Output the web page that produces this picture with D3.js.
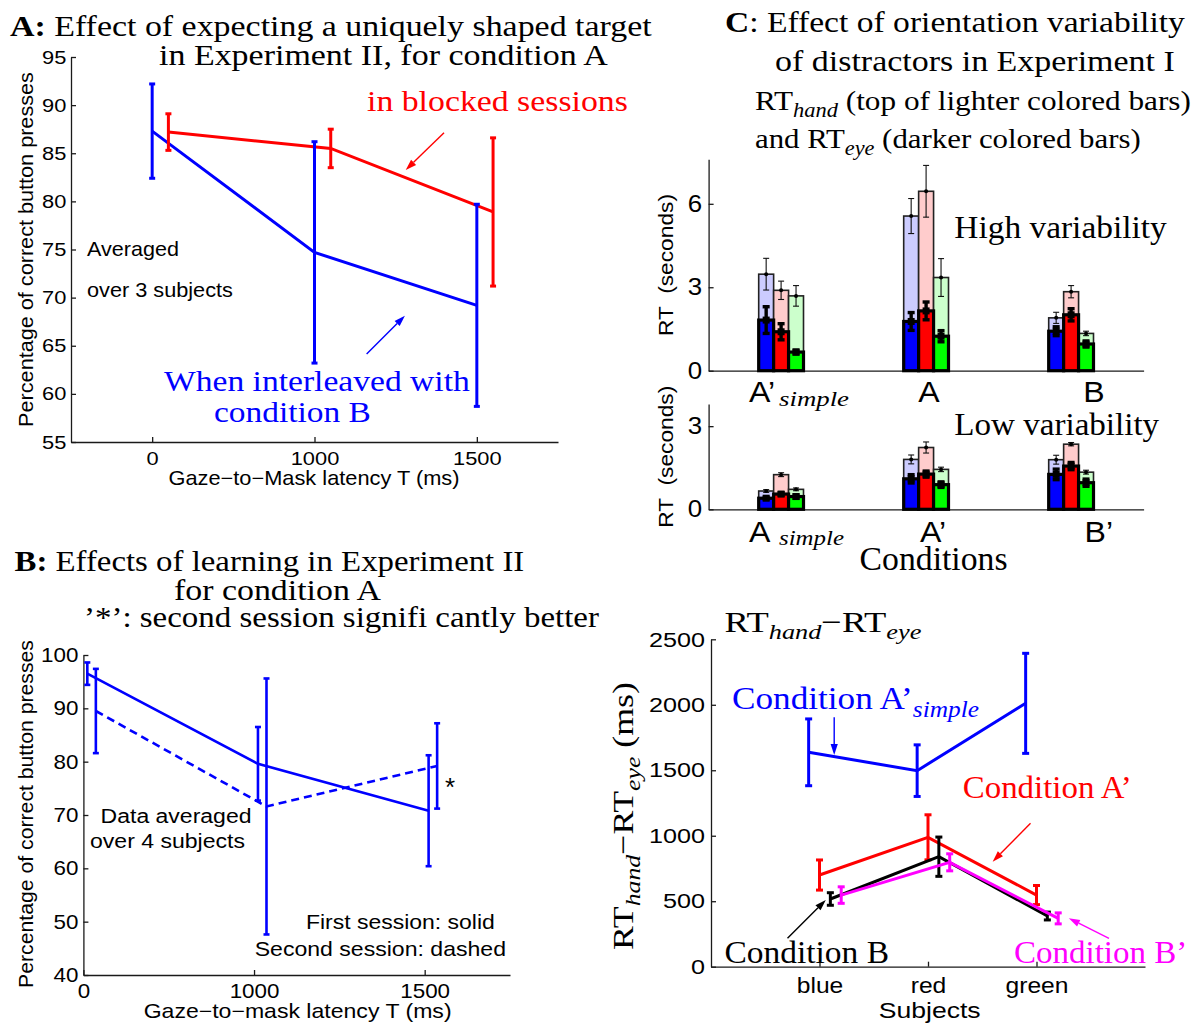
<!DOCTYPE html>
<html><head><meta charset="utf-8">
<script src="https://cdn.jsdelivr.net/npm/d3@7"></script>
<style>
html,body{margin:0;padding:0;background:#fff;}
svg{display:block;background:#fff;}
</style></head><body>
<svg id="fig" width="1199" height="1026"></svg>
<script>
// ---------------- Panel A data ----------------
const aLatencyLabels = ["0", "1000", "1500"];
const aYTicks = [55, 60, 65, 70, 75, 80, 85, 90, 95];
const aBlockedMean = [87.2, 85.5, 78.9];
const aBlockedErr = [1.9, 2.0, 7.7];
const aInterleavedMean = [87.3, 74.7, 69.2];
const aInterleavedErr = [4.9, 11.5, 10.5];

// ---------------- Panel B data ----------------
const bLatencyLabels = ["0", "1000", "1500"];
const bYTicks = [40, 50, 60, 70, 80, 90, 100];
const bFirstMean = [96.5, 79.6, 70.8];
const bFirstErr = [2.1, 6.9, 10.4];
const bSecondMean = [89.5, 71.6, 79.2];
const bSecondErr = [7.9, 24.0, 8.0];

// ---------------- Panel C data (rows: conditions, cols: subjects blue/red/green) ----------------
const cSubjects = ["blue", "red", "green"];
const cHighConditions = ["A’", "A", "B"];
const cHighYTicks = [0, 3, 6];
const cHighHand = [[3.47, 2.89, 2.69], [5.56, 6.45, 3.35], [1.90, 2.84, 1.34]];
const cHighHandErr = [[0.57, 0.33, 0.37], [0.63, 0.93, 0.68], [0.20, 0.22, 0.08]];
const cHighEye = [[1.82, 1.40, 0.67], [1.77, 2.15, 1.24], [1.42, 2.01, 0.96]];
const cHighEyeErr = [[0.48, 0.29, 0.07], [0.32, 0.32, 0.20], [0.16, 0.22, 0.11]];
const cLowConditions = ["A", "A’", "B’"];
const cLowYTicks = [0, 3];
const cLowHand = [[0.66, 1.25, 0.72], [1.80, 2.23, 1.44], [1.79, 2.35, 1.34]];
const cLowHandErr = [[0.05, 0.07, 0.05], [0.16, 0.20, 0.08], [0.16, 0.06, 0.07]];
const cLowEye = [[0.40, 0.55, 0.46], [1.10, 1.27, 0.89], [1.26, 1.56, 0.96]];
const cLowEyeErr = [[0.03, 0.05, 0.06], [0.15, 0.11, 0.10], [0.19, 0.13, 0.13]];

// ---------------- Panel D data ----------------
const dSubjects = ["blue", "red", "green"];
const dYTicks = [0, 500, 1000, 1500, 2000, 2500];
const dAprimeSimpleMean = [1637, 1497, 2011];
const dAprimeSimpleErr = [255, 197, 382];
const dAprimeMean = [700, 988, 547];
const dAprimeErr = [115, 172, 73];
const dBMean = [517, 840, 387];
const dBErr = [48, 150, 30];
const dBprimeMean = [547, 797, 369];
const dBprimeErr = [63, 65, 42];

// ---------------- helpers ----------------
const svg = d3.select("#fig");
const SANS = "'Liberation Sans', Arial, Helvetica, sans-serif";
const SERIF = "'Liberation Serif', 'Times New Roman', Times, serif";
const AX = "#1a1a1a";
const BLUE = "#0000ff", RED = "#ff0000", GREEN = "#00ff00", MAG = "#ff00ff";
const fmtInt = d3.format("d");

function label(parent, o) {
  const g = parent.append("g");
  const t = g.append("text")
    .attr("font-family", o.family || SERIF)
    .attr("font-size", o.size)
    .attr("fill", o.fill || "#000")
    .attr("text-anchor", o.anchor || "start")
    .style("white-space", "pre");
  const parts = typeof o.text === "string" ? [{ t: o.text }] : o.text;
  let shift = 0;
  parts.forEach(p => {
    const target = p.sub ? o.size * 0.25 : 0;
    const ts = t.append("tspan").text(p.t);
    if (target !== shift) ts.attr("dy", target - shift);
    shift = target;
    if (p.sub) ts.attr("font-size", o.size * 0.72);
    if (p.bold) ts.attr("font-weight", "bold");
    if (p.italic) ts.attr("font-style", "italic");
    if (p.family) ts.attr("font-family", p.family);
  });
  let sx = o.sx || 1;
  if (o.width) sx = o.width / t.node().getComputedTextLength();
  g.attr("transform", `translate(${o.x},${o.y})` + (o.rotate ? ` rotate(${o.rotate})` : "") + ` scale(${sx},1)`);
  return g;
}

function styleAxis(g, size, sx) {
  g.attr("font-size", null).attr("font-family", null);
  g.select(".domain").attr("stroke", AX).attr("stroke-width", 1.3);
  g.selectAll(".tick line").attr("stroke", AX).attr("stroke-width", 1.3);
  g.selectAll(".tick text").attr("font-family", SANS).attr("font-size", size)
    .attr("fill", "#000").attr("transform", `scale(${sx},1)`);
}

function errorBars(g, xs, means, errs, x, y, color, width, cap) {
  means.forEach((m, i) => {
    const cx = x(xs[i]), t = y(m + errs[i]), b = y(m - errs[i]);
    g.append("line").attr("x1", cx).attr("x2", cx).attr("y1", t).attr("y2", b)
      .attr("stroke", color).attr("stroke-width", width);
    [t, b].forEach(yy => g.append("line").attr("x1", cx - cap / 2).attr("x2", cx + cap / 2)
      .attr("y1", yy).attr("y2", yy).attr("stroke", color).attr("stroke-width", width));
  });
}

function arrow(g, x, y, p0, p1, color) {
  const x0 = x(p0[0]), y0 = y(p0[1]), x1 = x(p1[0]), y1 = y(p1[1]);
  const ang = Math.atan2(y1 - y0, x1 - x0), L = 11, W = 3.6;
  const bx = x1 - L * Math.cos(ang), by = y1 - L * Math.sin(ang);
  g.append("line").attr("x1", x0).attr("y1", y0).attr("x2", bx).attr("y2", by)
    .attr("stroke", color).attr("stroke-width", 1.4);
  g.append("path").attr("d", `M${x1},${y1}L${bx - W * Math.sin(ang)},${by + W * Math.cos(ang)}L${bx + W * Math.sin(ang)},${by - W * Math.cos(ang)}Z`)
    .attr("fill", color);
}

// ================= Panel A =================
(function () {
  const g = svg.append("g");
  const x = d3.scaleLinear([0.5, 3.5], [71, 558]);
  const y = d3.scaleLinear([55, 95], [442, 57]);
  const idx = aLatencyLabels.map((d, i) => i + 1);
  g.append("g").attr("transform", "translate(0,442)")
    .call(d3.axisBottom(x).tickValues(idx).tickFormat((d, i) => aLatencyLabels[i]).tickSizeInner(-5).tickSizeOuter(0).tickPadding(9.5))
    .call(a => styleAxis(a, 19, 1.15));
  g.append("g").attr("transform", "translate(71,0)")
    .call(d3.axisLeft(y).tickValues(aYTicks).tickFormat(fmtInt).tickSizeInner(-5).tickSizeOuter(0).tickPadding(4))
    .call(a => styleAxis(a, 19, 1.15));

  const line = off => d3.line().x((d, i) => x(idx[i] + off)).y(d => y(d));
  g.append("path").datum(aInterleavedMean).attr("d", line(0)).attr("fill", "none").attr("stroke", BLUE).attr("stroke-width", 3);
  g.append("path").datum(aBlockedMean).attr("d", line(0.1)).attr("fill", "none").attr("stroke", RED).attr("stroke-width", 3);
  errorBars(g, idx, aInterleavedMean, aInterleavedErr, x, y, BLUE, 3, 6);
  errorBars(g, idx.map(v => v + 0.1), aBlockedMean, aBlockedErr, x, y, RED, 3, 6);
  arrow(g, x, y, [2.798, 87.14], [2.562, 83.26], RED);
  arrow(g, x, y, [2.321, 64.14], [2.557, 68.12], BLUE);

  label(g, { x: 10, y: 36, size: 30, width: 642, text: [{ t: "A:", bold: true }, { t: " Effect of expecting a uniquely shaped target" }] });
  label(g, { x: 159, y: 65, size: 30, width: 449, text: "in Experiment II, for condition A" });
  label(g, { x: 367, y: 111, size: 30, width: 261, fill: RED, text: "in blocked sessions" });
  label(g, { x: 164, y: 391, size: 30, width: 306, fill: BLUE, text: "When interleaved with" });
  label(g, { x: 214, y: 422, size: 30, width: 157, fill: BLUE, text: "condition B" });
  label(g, { x: 87, y: 256, size: 20, width: 92, family: SANS, text: "Averaged" });
  label(g, { x: 87, y: 297, size: 20, width: 146, family: SANS, text: "over 3 subjects" });
  label(g, { x: 33, y: 249.5, size: 20, width: 355, family: SANS, anchor: "middle", rotate: -90, text: "Percentage of correct button presses" });
  label(g, { x: 314, y: 485, size: 20, width: 291, family: SANS, anchor: "middle", text: "Gaze\u2212to\u2212Mask latency T (ms)" });
})();

// ================= Panel B =================
(function () {
  const g = svg.append("g");
  const x = d3.scaleLinear([1, 3.5], [83.4, 510]);
  const y = d3.scaleLinear([40, 100], [975, 655]);
  const idx = bLatencyLabels.map((d, i) => i + 1);
  g.append("g").attr("transform", "translate(0,975)")
    .call(d3.axisBottom(x).tickValues(idx).tickFormat((d, i) => bLatencyLabels[i]).tickSizeInner(-5).tickSizeOuter(0).tickPadding(9))
    .call(a => styleAxis(a, 20, 1.12));
  g.append("g").attr("transform", "translate(83.4,0)")
    .call(d3.axisLeft(y).tickValues(bYTicks).tickFormat(fmtInt).tickSizeInner(-5).tickSizeOuter(0).tickPadding(4.5))
    .call(a => styleAxis(a, 20, 1.12));

  const line = off => d3.line().x((d, i) => x(idx[i] + off)).y(d => y(d));
  g.append("path").datum(bFirstMean).attr("d", line(0.023)).attr("fill", "none").attr("stroke", BLUE).attr("stroke-width", 2.6);
  g.append("path").datum(bSecondMean).attr("d", line(0.073)).attr("fill", "none").attr("stroke", BLUE).attr("stroke-width", 2.6).attr("stroke-dasharray", "8,5");
  errorBars(g, idx.map(v => v + 0.023), bFirstMean, bFirstErr, x, y, BLUE, 2.6, 6);
  errorBars(g, idx.map(v => v + 0.073), bSecondMean, bSecondErr, x, y, BLUE, 2.6, 6);

  label(g, { x: 14.5, y: 571, size: 30, width: 510, text: [{ t: "B:", bold: true }, { t: " Effects of learning in Experiment II" }] });
  label(g, { x: 174, y: 600, size: 30, width: 207, text: "for condition A" });
  label(g, { x: 84, y: 627, size: 30, width: 515, text: "\u2019*\u2019: second session signifi cantly better" });
  label(g, { x: 100.6, y: 822.7, size: 20, width: 151, family: SANS, text: "Data averaged" });
  label(g, { x: 90, y: 848, size: 20, width: 155, family: SANS, text: "over 4 subjects" });
  label(g, { x: 494.8, y: 929.3, size: 20, width: 189, family: SANS, anchor: "end", text: "First session: solid" });
  label(g, { x: 506, y: 956, size: 20, width: 251.5, family: SANS, anchor: "end", text: "Second session: dashed" });
  label(g, { x: 450, y: 796, size: 26, family: SANS, anchor: "middle", text: "*" });
  label(g, { x: 33, y: 814, size: 20, width: 348, family: SANS, anchor: "middle", rotate: -90, text: "Percentage of correct button presses" });
  label(g, { x: 297.6, y: 1018, size: 20, width: 308, family: SANS, anchor: "middle", text: "Gaze\u2212to\u2212mask latency T (ms)" });
})();

// ================= Panel C =================
const LIGHT = ["#ccccff", "#ffcccc", "#ccffcc"];
const DARK = [BLUE, RED, GREEN];
function barPanel(yr, yMax, ticks, hand, handErr, eye, eyeErr) {
  const g = svg.append("g");
  const x = d3.scaleLinear([0.5, 3.5], [708.6, 1143.6]);
  const y = d3.scaleLinear([0, yMax], yr);
  const bw = 0.103;
  const bwPx = x(bw) - x(0);
  g.append("g").attr("transform", `translate(0,${yr[0]})`)
    .call(d3.axisBottom(x).tickValues([]).tickSizeOuter(0))
    .call(a => styleAxis(a, 20, 1));
  g.append("g").attr("transform", "translate(708.6,0)")
    .call(d3.axisLeft(y).tickValues(ticks).tickFormat(fmtInt).tickSizeInner(-5).tickSizeOuter(0).tickPadding(6))
    .call(a => styleAxis(a, 23.5, 1.1));
  const pos = (i, j) => i + 1 + (j - 1) * bw;
  hand.forEach((grp, i) => grp.forEach((v, j) => {
    g.append("rect").attr("x", x(pos(i, j) - bw / 2)).attr("width", bwPx)
      .attr("y", y(v)).attr("height", y(0) - y(v))
      .attr("fill", LIGHT[j]).attr("stroke", "#222").attr("stroke-width", 1.6);
  }));
  eye.forEach((grp, i) => grp.forEach((v, j) => {
    g.append("rect").attr("x", x(pos(i, j) - bw / 2)).attr("width", bwPx)
      .attr("y", y(v)).attr("height", y(0) - y(v))
      .attr("fill", DARK[j]).attr("stroke", "#000").attr("stroke-width", 3.2);
  }));
  hand.forEach((grp, i) => {
    const xs = grp.map((v, j) => pos(i, j));
    errorBars(g, xs, grp, handErr[i], x, y, "#111", 1.1, 6);
    grp.forEach((v, j) => g.append("circle").attr("cx", x(xs[j])).attr("cy", y(v)).attr("r", 2).attr("fill", "#000"));
  });
  eye.forEach((grp, i) => {
    const xs = grp.map((v, j) => pos(i, j));
    errorBars(g, xs, grp, eyeErr[i], x, y, "#000", 3.4, 7);
    grp.forEach((v, j) => g.append("rect").attr("x", x(xs[j]) - 3.5).attr("y", y(v) - 3.5).attr("width", 7).attr("height", 7).attr("fill", "#000"));
  });
  return g;
}
(function () {
  const gH = barPanel([370.7, 159.3], 7.6, cHighYTicks, cHighHand, cHighHandErr, cHighEye, cHighEyeErr);
  const gL = barPanel([509.3, 404], 3.8, cLowYTicks, cLowHand, cLowHandErr, cLowEye, cLowEyeErr);

  label(gH, { x: 749, y: 401.7, size: 30, sx: 1.07, family: SANS, text: cHighConditions[0] });
  label(gH, { x: 779, y: 405.5, size: 22, width: 70, family: SERIF, text: [{ t: "simple", italic: true }] });
  label(gH, { x: 929, y: 401.7, size: 30, sx: 1.07, family: SANS, anchor: "middle", text: cHighConditions[1] });
  label(gH, { x: 1094, y: 401.7, size: 30, sx: 1.07, family: SANS, anchor: "middle", text: cHighConditions[2] });
  label(gL, { x: 749, y: 541.7, size: 30, sx: 1.07, family: SANS, text: cLowConditions[0] });
  label(gL, { x: 779, y: 545, size: 22, width: 65, family: SERIF, text: [{ t: "simple", italic: true }] });
  label(gL, { x: 933, y: 541.7, size: 30, sx: 1.07, family: SANS, anchor: "middle", text: cLowConditions[1] });
  label(gL, { x: 1084.6, y: 541.7, size: 30, sx: 1.07, family: SANS, text: cLowConditions[2] });

  label(gH, { x: 954.3, y: 238.3, size: 31, width: 212.5, text: "High variability" });
  label(gL, { x: 954.3, y: 435, size: 31, width: 205, text: "Low variability" });
  label(gL, { x: 859.6, y: 570, size: 33, width: 148, text: "Conditions" });
  label(gH, { x: 673, y: 265, size: 20, width: 142, family: SANS, anchor: "middle", rotate: -90, text: "RT  (seconds)" });
  label(gL, { x: 673, y: 456.7, size: 20, width: 142, family: SANS, anchor: "middle", rotate: -90, text: "RT  (seconds)" });

  label(gH, { x: 725, y: 32, size: 30, width: 460, text: [{ t: "C", bold: true }, { t: ": Effect of orientation variability" }] });
  label(gH, { x: 775, y: 71, size: 30, width: 400, text: "of distractors in Experiment I" });
  label(gH, { x: 755, y: 110, size: 28, width: 436, text: [{ t: "RT" }, { t: "hand", sub: true, italic: true }, { t: " (top of lighter colored bars)" }] });
  label(gH, { x: 755, y: 148, size: 28, width: 386, text: [{ t: "and RT" }, { t: "eye", sub: true, italic: true }, { t: " (darker colored bars)" }] });
})();

// ================= Panel D =================
(function () {
  const g = svg.append("g");
  const x = d3.scaleLinear([0, 4], [711, 1145]);
  const y = d3.scaleLinear([0, 2500], [966.7, 639.3]);
  const idx = dSubjects.map((d, i) => i + 1);
  g.append("g").attr("transform", "translate(0,966.7)")
    .call(d3.axisBottom(x).tickValues(idx).tickFormat((d, i) => dSubjects[i]).tickSizeInner(-5).tickSizeOuter(0).tickPadding(11))
    .call(a => styleAxis(a, 22, 1.12));
  g.append("g").attr("transform", "translate(711,0)")
    .call(d3.axisLeft(y).tickValues(dYTicks).tickFormat(fmtInt).tickSizeInner(-5).tickSizeOuter(0).tickPadding(5))
    .call(a => styleAxis(a, 21, 1.2));

  const series = [
    [dAprimeSimpleMean, dAprimeSimpleErr, -0.1, BLUE],
    [dAprimeMean, dAprimeErr, 0, RED],
    [dBMean, dBErr, 0.1, "#000"],
    [dBprimeMean, dBprimeErr, 0.2, MAG]
  ];
  series.forEach(([m, e, off, col]) => {
    g.append("path").datum(m).attr("d", d3.line().x((d, i) => x(idx[i] + off)).y(d => y(d)))
      .attr("fill", "none").attr("stroke", col).attr("stroke-width", 3);
    errorBars(g, idx.map(v => v + off), m, e, x, y, col, 3, 7);
  });
  arrow(g, x, y, [1.1355, 1904], [1.1355, 1616], BLUE);
  arrow(g, x, y, [2.945, 1095], [2.596, 802], RED);
  arrow(g, x, y, [0.705, 217], [1.058, 509], "#000");
  arrow(g, x, y, [3.668, 217], [3.298, 370], MAG);

  label(g, { x: 724.4, y: 631.7, size: 30, width: 197, text: [{ t: "RT" }, { t: "hand", sub: true, italic: true }, { t: "\u2212RT" }, { t: "eye", sub: true, italic: true }] });
  label(g, { x: 632.5, y: 816, size: 30, width: 268, anchor: "middle", rotate: -90, text: [{ t: "RT" }, { t: "hand", sub: true, italic: true }, { t: "\u2212RT" }, { t: "eye", sub: true, italic: true }, { t: " (ms)" }] });
  label(g, { x: 732, y: 709.3, size: 32, width: 247, fill: BLUE, text: [{ t: "Condition A\u2019" }, { t: "simple", sub: true, italic: true }] });
  label(g, { x: 962.8, y: 798.3, size: 32, width: 169, fill: RED, text: "Condition A\u2019" });
  label(g, { x: 724.4, y: 962.7, size: 32, width: 164.6, text: "Condition B" });
  label(g, { x: 1014, y: 962.7, size: 32, width: 173.4, fill: MAG, text: "Condition B\u2019" });
  label(g, { x: 929.7, y: 1018, size: 22, width: 102, family: SANS, anchor: "middle", text: "Subjects" });
})();
</script>
</body></html>
